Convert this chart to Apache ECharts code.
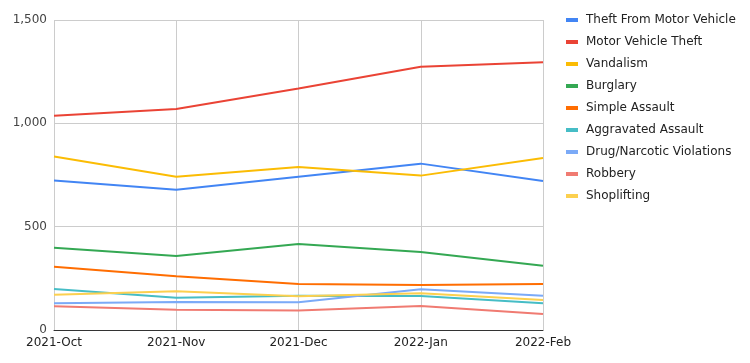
<!DOCTYPE html>
<html><head><meta charset="utf-8">
<script src="https://cdn.jsdelivr.net/npm/echarts@6/dist/echarts.min.js"></script>
<style>html,body{margin:0;padding:0;background:#fff}#c{width:750px;height:363px}</style>
</head><body><div id="c"></div>
<script>
const categories = ['2021-Oct','2021-Nov','2021-Dec','2022-Jan','2022-Feb'];
const seriesNames = ['Theft From Motor Vehicle','Motor Vehicle Theft','Vandalism','Burglary','Simple Assault','Aggravated Assault','Drug/Narcotic Violations','Robbery','Shoplifting'];
const theftFromMV = [723, 679, 742, 805, 721];
const mvTheft = [1037, 1069, 1169, 1274, 1295];
const vandalism = [839, 742, 789, 747, 832];
const burglary = [398, 358, 416, 377, 311];
const simpleAssault = [306, 260, 223, 218, 223];
const aggAssault = [198, 156, 166, 165, 129];
const drugs = [129, 135, 134, 197, 166];
const robbery = [115, 98, 94, 116, 77];
const shoplifting = [171, 187, 163, 178, 145];
const colors = ['#4285F4','#EA4335','#FBBC04','#34A853','#FF6D01','#46BDC6','#7BAAF7','#F07B72','#FCD04F'];
const allData = [theftFromMV, mvTheft, vandalism, burglary, simpleAssault, aggAssault, drugs, robbery, shoplifting];

const chart = echarts.init(document.getElementById('c'));
chart.setOption({
  animation: false,
  color: colors,
  textStyle: {fontFamily: 'DejaVu Sans'},
  grid: {left: 54, right: 207, top: 20, bottom: 33},
  legend: {
    orient: 'vertical', left: 561, top: 9, itemGap: 10,
    itemWidth: 12, itemHeight: 4, icon: 'rect',
    textStyle: {fontSize: 12, color: '#222', fontFamily: 'DejaVu Sans', padding: [0, 0, 0, 3]},
    data: seriesNames
  },
  xAxis: {
    type: 'category', data: categories, boundaryGap: false,
    axisLine: {lineStyle: {color: '#333'}},
    axisTick: {show: false},
    axisLabel: {color: '#222', fontSize: 12, margin: 7},
    splitLine: {show: true, lineStyle: {color: '#ccc'}}
  },
  yAxis: {
    type: 'value', min: 0, max: 1500, interval: 500,
    axisLine: {show: false}, axisTick: {show: false},
    axisLabel: {color: '#444', fontSize: 12, margin: 7, formatter: v => v.toLocaleString('en-US')},
    splitLine: {lineStyle: {color: '#ccc'}}
  },
  series: seriesNames.map((n, i) => ({
    name: n, type: 'line', data: allData[i], showSymbol: false,
    lineStyle: {width: 2}
  }))
});
</script></body></html>
